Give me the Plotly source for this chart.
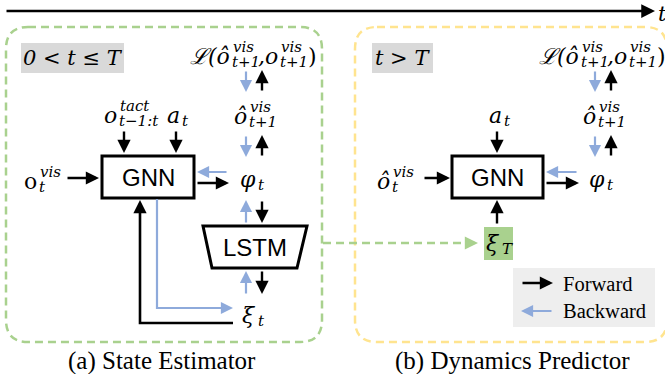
import plotly.graph_objects as go

W, H = 665, 374

# ---- texts / labels ----
panel_titles = ["0 < t ≤ T", "t > T"]
captions = ["(a) State Estimator", "(b) Dynamics Predictor"]
block_labels = ["GNN", "LSTM"]
legend_labels = ["Forward", "Backward"]
time_label = "t"

BLACK = "#000000"
BLUE = "#8eaadb"
GREEN = "#a9d18e"
YELLOW = "#ffe48f"
GRAY = "#d9d9d9"
LEG = "#eeeeee"

MATH = "DejaVu Serif"
SERIF = "Liberation Serif"
SANS = "Liberation Sans"

shapes = []
annots = []


def rrect(x0, y0, x1, y1, r, color, width=2.5, dash="8px,5px", fill=None):
    p = (f"M {x0+r},{y0} L {x1-r},{y0} Q {x1},{y0} {x1},{y0+r} L {x1},{y1-r} "
         f"Q {x1},{y1} {x1-r},{y1} L {x0+r},{y1} Q {x0},{y1} {x0},{y1-r} "
         f"L {x0},{y0+r} Q {x0},{y0} {x0+r},{y0} Z")
    shapes.append(dict(type="path", path=p, xref="x", yref="y",
                       line=dict(color=color, width=width, dash=dash),
                       fillcolor=fill if fill else "rgba(0,0,0,0)", layer="below"))


def rect(x0, y0, x1, y1, fill, line_color=None, width=0):
    shapes.append(dict(type="rect", x0=x0, y0=y0, x1=x1, y1=y1, xref="x", yref="y",
                       fillcolor=fill,
                       line=dict(color=line_color or fill, width=width), layer="below"))


def arrow(x0, y0, x1, y1, color=BLACK, width=2.4, size=1.1):
    annots.append(dict(x=x1, y=y1, ax=x0, ay=y0, xref="x", yref="y", axref="x", ayref="y",
                       text="", showarrow=True, arrowhead=2, arrowsize=size,
                       arrowwidth=width, arrowcolor=color, standoff=0, startstandoff=0))


def line(pts, color, width=2.4, dash=None):
    p = "M " + " L ".join(f"{x},{y}" for x, y in pts)
    ln = dict(color=color, width=width)
    if dash:
        ln["dash"] = dash
    shapes.append(dict(type="path", path=p, xref="x", yref="y", line=ln))


def text(x, y, s, size, family, xanchor="center", italic=False, color=BLACK):
    annots.append(dict(x=x, y=y, xref="x", yref="y", text=s, showarrow=False,
                       xanchor=xanchor, yanchor="middle", borderpad=0,
                       font=dict(size=size, family=family, color=color,
                                 style="italic" if italic else "normal")))


def math(xs, base_line, base, sup=None, sub=None, bs=22, ss=15, italic=True):
    # base ends at xs; scripts start at xs
    text(xs, base_line - 0.35 * bs, base, bs, MATH, xanchor="right", italic=italic)
    if sup:
        text(xs + 0.5, base_line - 12 - 0.35 * ss, sup, ss, MATH, xanchor="left", italic=True)
    if sub:
        text(xs, base_line + 3 - 0.35 * ss, sub, ss, MATH, xanchor="left", italic=True)


# ---- time axis ----
arrow(5, 11, 655, 11, BLACK, 2.5)
text(657, 14, time_label, 21, MATH, xanchor="left", italic=True)

# ---- panels ----
rrect(6, 27, 322, 342, 22, GREEN)
rrect(355, 27, 667, 342, 22, YELLOW)

rect(21, 43, 124, 73, GRAY)
rect(372, 43, 433, 73, GRAY)
text(72.5, 58, panel_titles[0], 21, MATH, italic=True)
text(402.5, 58, panel_titles[1], 21, MATH, italic=True)

# ---- loss terms ----
for dx in (0, 349):
    math(231 + dx, 64, "ℒ(ô", "vis", "t+1")
    math(279 + dx, 64, ",o", "vis", "t+1")
    text(307 + dx, 64 - 7.7, ")", 22, MATH, xanchor="left")
    math(248 + dx, 124, "ô", "vis", "t+1")
    math(257 + dx, 187, "φ", None, "t")
    # loss <-> prediction arrows
    arrow(246 + dx, 70, 246 + dx, 92, BLUE, 2.2)
    arrow(262 + dx, 92, 262 + dx, 70, BLACK)
    arrow(246 + dx, 135, 246 + dx, 157, BLUE, 2.2)
    arrow(262 + dx, 157, 262 + dx, 135, BLACK)

# ---- left: state estimator ----
rect(102, 156, 194, 198, "white", BLACK, 3)
text(148, 177, block_labels[0], 24, SANS)
math(118, 123, "o", "tact", "t−1:t")
math(181, 123, "a", None, "t")
math(38, 189, "o", "vis", "t", italic=False)
arrow(124, 130, 124, 153)
arrow(176, 130, 176, 153)
arrow(66, 178, 99, 178)
arrow(228, 172, 197, 172, BLUE, 2.2)
arrow(196, 183, 229, 183)

shapes.append(dict(type="path", path="M 203,226 L 307,226 L 297,268 L 212,268 Z",
                   xref="x", yref="y", line=dict(color=BLACK, width=3),
                   fillcolor="white"))
text(255, 247, block_labels[1], 24, SANS)
arrow(246, 224, 246, 200, BLUE, 2.2)
arrow(262, 200, 262, 223)
arrow(246, 295, 246, 271, BLUE, 2.2)
arrow(262, 270, 262, 294)
math(257, 323, "ξ", None, "t")

line([(157, 199), (157, 308), (224, 308)], BLUE, 2.2)
arrow(222, 308, 233, 308, BLUE, 2.2)
line([(233, 323), (140, 323), (140, 212)], BLACK, 2.6)
arrow(140, 214, 140, 200)

# ---- connector ----
line([(323, 243), (468, 243)], GREEN, 2.5, dash="8px,5px")
arrow(466, 243, 478, 243, GREEN, 2.4)

# ---- right: dynamics predictor ----
rect(452, 156, 543, 198, "white", BLACK, 3)
text(497.5, 177, block_labels[0], 24, SANS)
math(503, 123, "a", None, "t")
math(391, 189, "ô", "vis", "t")
arrow(497, 130, 497, 153)
arrow(423, 178, 450, 178)
arrow(578, 172, 546, 172, BLUE, 2.2)
arrow(545, 183, 579, 183)
rect(484, 227, 513, 260, GREEN)
math(501, 251, "ξ", None, "T")
arrow(497, 225, 497, 200)

# ---- legend ----
rect(513, 268, 655, 327, LEG)
arrow(521, 283, 553, 283)
arrow(553, 311, 521, 311, BLUE, 2.2)
text(562, 284, legend_labels[0], 20.5, SERIF, xanchor="left")
text(562, 311, legend_labels[1], 20.5, SERIF, xanchor="left")

# ---- captions ----
text(162, 361, captions[0], 25, SERIF)
text(512, 361, captions[1], 25, SERIF)

fig = go.Figure()
fig.update_layout(
    width=W, height=H, margin=dict(l=0, r=0, t=0, b=0),
    paper_bgcolor="white", plot_bgcolor="white",
    xaxis=dict(range=[0, W], visible=False, fixedrange=True),
    yaxis=dict(range=[H, 0], visible=False, fixedrange=True),
    shapes=shapes, annotations=annots, showlegend=False,
)
fig.write_html("out.html", config={"displayModeBar": False},
               post_script="document.body.style.margin='0';document.body.style.overflow='hidden';")
